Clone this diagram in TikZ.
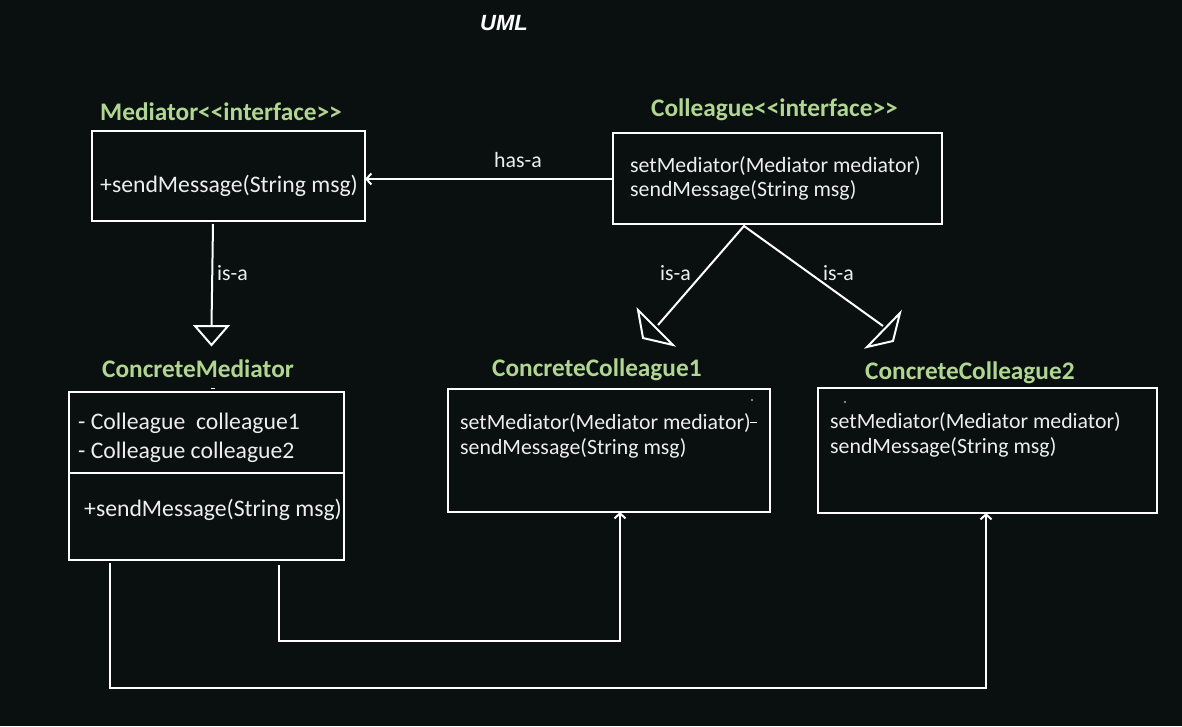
\documentclass[tikz,border=0pt]{standalone}
\usepackage{fontspec}
\setmainfont{Carlito}
\newfontfamily\umlfont{Liberation Sans}
\usetikzlibrary{arrows.meta}
\definecolor{bg}{RGB}{10,16,15}
\definecolor{ttl}{RGB}{176,214,146}
\definecolor{txt}{RGB}{238,238,238}
\newcommand{\lt}{\mbox{<}}
\newcommand{\gt}{\mbox{>}}
\tikzset{
  box/.style={draw=white, line width=2pt, rectangle, anchor=north west, inner sep=0pt, outer sep=0pt},
  title/.style={anchor=west, inner sep=0pt, text=ttl, font=\fontsize{25.3}{29}\selectfont\bfseries},
  body/.style={anchor=west, inner sep=0pt, text=txt, font=\fontsize{21.8}{25}\selectfont, align=left},
  bodyl/.style={anchor=west, inner sep=0pt, text=txt, font=\fontsize{23.7}{29}\selectfont, align=left},
  lbl/.style={anchor=west, inner sep=0pt, text=txt, font=\fontsize{21.8}{25}\selectfont},
  ln/.style={draw=white, line width=2pt},
  barb/.style={ln, -{Straight Barb[length=5pt,width=11pt,line width=2pt]}},
}
\begin{document}
\begin{tikzpicture}[x=1pt,y=-1pt]
\fill[bg] (0,0) rectangle (1182,726);
\useasboundingbox (0,0) rectangle (1182,726);

% title
\node[anchor=west, inner sep=0pt, text=white, font=\umlfont\fontsize{22}{26}\selectfont\bfseries\itshape] (uml) at (480,23) {UML};

% boxes
\node[box, minimum width=273pt, minimum height=90pt] (med) at (92,131) {};
\node[box, minimum width=329pt, minimum height=91pt] (col) at (613,133) {};
\node[box, minimum width=275pt, minimum height=168pt] (cm) at (69,392) {};
\node[box, minimum width=322pt, minimum height=123pt] (cc1) at (448,389) {};
\node[box, minimum width=339pt, minimum height=125pt] (cc2) at (818,388) {};
\coordinate (cmdiv) at (69,473);
\draw[ln] (cmdiv) -- (cmdiv -| cm.east);

% titles
\node[title] (medt) at (100,112) {Mediator\lt\lt interface\gt\gt};
\node[title] (colt) at (651,110) {Colleague\lt\lt interface\gt\gt};
\node[title] (cmt) at (102,369) {ConcreteMediator};
\node[title] (cc1t) at (492,370) {ConcreteColleague1};
\node[title] (cc2t) at (865,373) {ConcreteColleague2};

% contents
\node[bodyl] (medm) at (100,186) {+sendMessage(String msg)};
\node[body] (colm1) at (630,166) {setMediator(Mediator mediator)};
\node[body] (colm2) at (630,190) {sendMessage(String msg)};
\node[bodyl] (cma1) at (78,423) {- Colleague\ \ colleague1};
\node[bodyl] (cma2) at (78,452) {- Colleague colleague2};
\node[bodyl] (cmm) at (84,510) {+sendMessage(String msg)};
\node[body] (c1m1) at (460,423) {setMediator(Mediator mediator)};
\node[body] (c1m2) at (460,448) {sendMessage(String msg)};
\node[body] (c2m1) at (830,422) {setMediator(Mediator mediator)};
\node[body] (c2m2) at (830,447) {sendMessage(String msg)};

% small marks
\draw[white, line width=1pt] (211,388) -- (215,388);
\draw[white, line width=1pt] (750,422) -- (757,422);
\fill[white] (752,400) circle (0.8pt);
\fill[white] (845,402) circle (0.8pt);

% has-a
\coordinate (h0) at (613,179);
\draw[barb] (h0) -- (h0 -| med.east);
\node[lbl] (hasa) at (494,160) {has-a};

% is-a mediator
\coordinate (m0) at (213,224);
\coordinate (m1) at (211.5,326);
\draw[ln] (m0) -- (m1);
\draw[ln, line join=miter] (195,326) -- (228,326) -- (211.5,345) -- cycle;
\node[lbl] (isa1) at (217,273) {is-a};

% is-a colleagues
\coordinate (c0) at (744,226);
\coordinate (l1) at (658,325);
\coordinate (r1) at (883,326);
\draw[ln] (l1) -- (c0) -- (r1);
\draw[ln] (638,310) -- (643,338) -- (673,345) -- cycle;
\draw[ln] (900,313) -- (893,341) -- (867,347) -- cycle;
\node[lbl] (isa2) at (660,273) {is-a};
\node[lbl] (isa3) at (823,273) {is-a};

% mediator to colleagues
\coordinate (s1) at (279,565);
\coordinate (j1) at (620,641);
\draw[barb] (s1) |- (j1) -- (j1 |- cc1.south);
\coordinate (s2) at (110,563);
\coordinate (j2) at (986,688);
\draw[barb] (s2) |- (j2) -- (j2 |- cc2.south);
\end{tikzpicture}
\end{document}
